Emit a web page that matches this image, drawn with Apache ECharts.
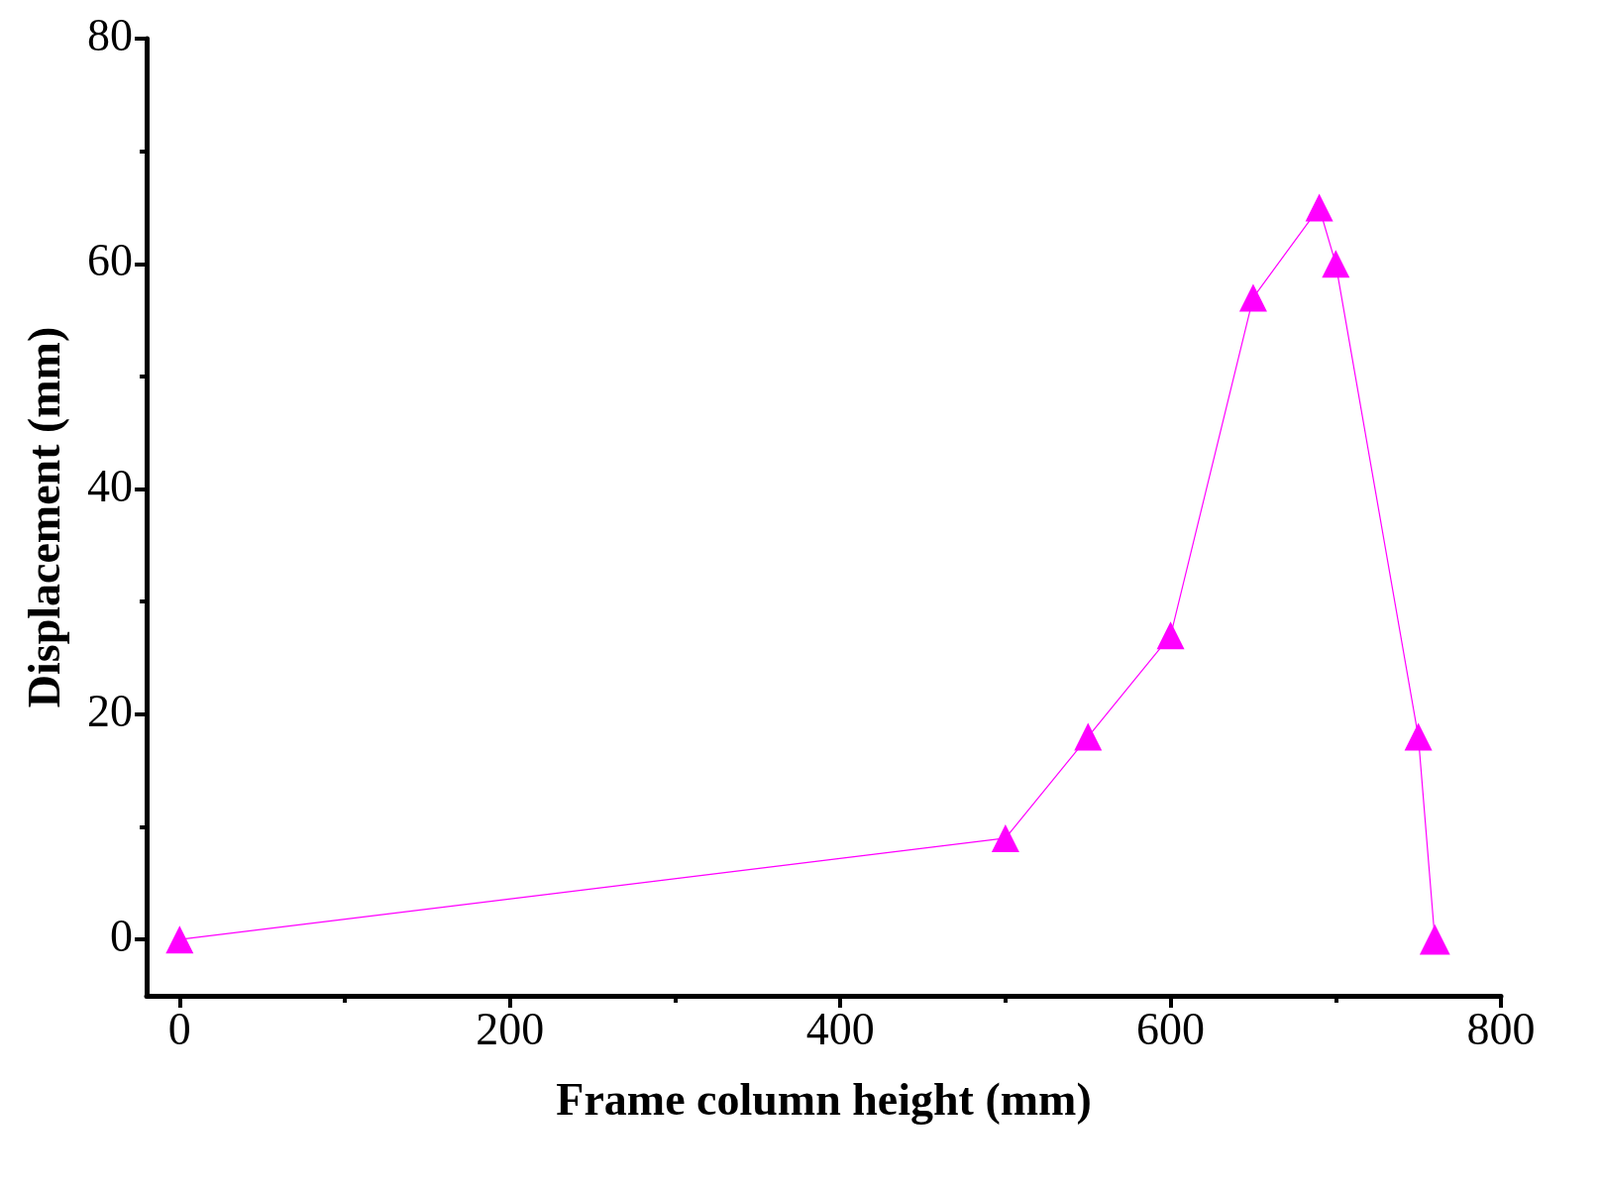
<!DOCTYPE html>
<html><head><meta charset="utf-8">
<script src="https://cdn.jsdelivr.net/npm/echarts@6/dist/echarts.min.js"></script>
<style>body{margin:0}#c{width:1615px;height:1204px}</style></head>
<body><div id="c"></div>
<script>
var heights = [0, 500, 550, 600, 650, 690, 700, 750, 760];
var displacement = [0, 9, 18, 27, 57, 65, 60, 18, 0];
var xMajor = [0, 200, 400, 600, 800];
var xMinor = [100, 300, 500, 700];
var yMajor = [0, 20, 40, 60, 80];
var yMinor = [10, 30, 50, 70];

var data = [];
for (var i = 0; i < heights.length; i++) data.push([heights[i], displacement[i]]);

var font = 'Liberation Serif';
var lineStyle = { color: '#000', width: 5 };
function axis(majors, minors, min, max, name, isX) {
  var main = {
    type: 'value', min: min, max: max, position: isX ? 'bottom' : 'left',
    name: name, nameLocation: 'middle', nameGap: isX ? 85 : 77,
    nameTextStyle: { fontFamily: font, fontWeight: 'bold', fontSize: 46, color: '#000' },
    axisLine: { show: true, onZero: false, lineStyle: lineStyle },
    axisTick: { show: true, length: 12, lineStyle: { width: 4, color: '#000' }, customValues: majors },
    axisLabel: { fontFamily: font, fontSize: 46, color: '#000', margin: 14, customValues: majors },
    splitLine: { show: false }
  };
  var minor = {
    type: 'value', min: min, max: max, position: isX ? 'bottom' : 'left', offset: 0,
    axisLine: { show: false, onZero: false },
    axisTick: { show: true, length: 7, lineStyle: { width: 4, color: '#000' }, customValues: minors },
    axisLabel: { show: false },
    splitLine: { show: false }
  };
  return [main, minor];
}

var chart = echarts.init(document.getElementById('c'));
chart.setOption({
  backgroundColor: '#fff',
  grid: { left: 148, right: 100, top: 39, bottom: 199 },
  xAxis: axis(xMajor, xMinor, -20, 800, 'Frame column height (mm)', true),
  yAxis: axis(yMajor, yMinor, -5, 80, 'Displacement (mm)', false),
  series: [{
    type: 'line', data: data, symbol: 'triangle', symbolSize: 28,
    lineStyle: { color: '#ff00ff', width: 1.2 },
    itemStyle: { color: '#ff00ff' }
  }]
});
</script></body></html>
